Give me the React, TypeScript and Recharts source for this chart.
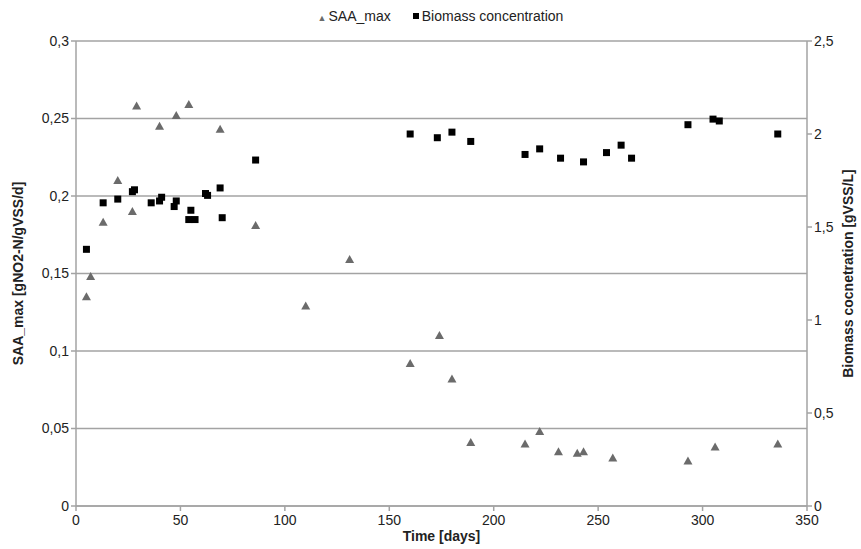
import React from 'react';
import { ScatterChart, Scatter, XAxis, YAxis, CartesianGrid } from 'recharts';

// SAA_max (left axis)
const saaDays = [5, 7, 13, 20, 27, 29, 40, 48, 54, 69, 86, 110, 131, 160, 174, 180, 189, 215, 222, 231, 240, 243, 257, 293, 306, 336];
const saaMax = [0.135, 0.148, 0.183, 0.21, 0.19, 0.258, 0.245, 0.252, 0.259, 0.243, 0.181, 0.129, 0.159, 0.092, 0.11, 0.082, 0.041, 0.04, 0.048, 0.035, 0.034, 0.035, 0.031, 0.029, 0.038, 0.04];

// Biomass concentration (right axis)
const bioDays = [5, 13, 20, 27, 28, 36, 40, 41, 47, 48, 54, 55, 57, 62, 63, 69, 70, 86, 160, 173, 180, 189, 215, 222, 232, 243, 254, 261, 266, 293, 305, 308, 336];
const biomass = [1.38, 1.63, 1.65, 1.69, 1.7, 1.63, 1.64, 1.66, 1.61, 1.64, 1.54, 1.59, 1.54, 1.68, 1.67, 1.71, 1.55, 1.86, 2.0, 1.98, 2.01, 1.96, 1.89, 1.92, 1.87, 1.85, 1.9, 1.94, 1.87, 2.05, 2.08, 2.07, 2.0];

const xTicks = [0, 50, 100, 150, 200, 250, 300, 350];
const leftTicks = [0, 0.05, 0.1, 0.15, 0.2, 0.25, 0.3];
const rightTicks = [0, 0.5, 1, 1.5, 2, 2.5];

const saaData = saaDays.map((d, i) => ({ x: d, y: saaMax[i] }));
const bioData = bioDays.map((d, i) => ({ x: d, y: biomass[i] }));

const FONT = '"Liberation Sans Narrow", "Arial Narrow", "Liberation Sans", Arial, sans-serif';
const AXIS_GRAY = '#a3a3a3';
const comma = (v: number) => String(v).replace('.', ',');

const Triangle = (props: any) => {
  const { cx, cy } = props;
  return <polygon points={`${cx},${cy - 4.5} ${cx - 4.5},${cy + 3.5} ${cx + 4.5},${cy + 3.5}`} fill="#6b6b6b" />;
};

const Square = (props: any) => {
  const { cx, cy } = props;
  return <rect x={cx - 3.5} y={cy - 3.5} width={7} height={7} fill="#000" />;
};

const tickStyle = { fontSize: 14, fill: '#222', fontFamily: FONT };

export default function App() {
  return (
    <div style={{ position: 'absolute', left: 0, top: 0, width: 861, height: 549, background: '#fff', fontFamily: FONT }}>
      <div style={{ position: 'absolute', top: 8, left: 0, width: 861, textAlign: 'center', fontSize: 14, color: '#222', paddingLeft: 10 }}>
        <span style={{ color: '#6b6b6b', fontSize: 9, marginRight: 2 }}>▲</span>
        <span>SAA_max</span>
        <span style={{ display: 'inline-block', width: 22 }} />
        <span style={{ display: 'inline-block', width: 6, height: 6, background: '#000', marginRight: 3, verticalAlign: 'middle', position: 'relative', top: -1 }} />
        <span>Biomass concentration</span>
      </div>
      <ScatterChart width={861} height={549} margin={{ top: 41, right: 20, bottom: 8, left: 20 }}>
        <CartesianGrid yAxisId="left" vertical={false} stroke={AXIS_GRAY} strokeWidth={1.5} />
        <XAxis
          type="number"
          dataKey="x"
          domain={[0, 350]}
          ticks={xTicks}
          height={35}
          stroke={AXIS_GRAY}
          strokeWidth={1.5}
          tickSize={5}
          tickMargin={4}
          tick={tickStyle}
          label={{
            content: ({ viewBox }: any) => (
              <text x={viewBox.x + viewBox.width / 2} y={541} textAnchor="middle" fontFamily={FONT} fontWeight="bold" fontSize={14} fill="#222">
                Time [days]
              </text>
            ),
          }}
        />
        <YAxis
          yAxisId="left"
          type="number"
          dataKey="y"
          domain={[0, 0.3]}
          ticks={leftTicks}
          width={56}
          stroke={AXIS_GRAY}
          strokeWidth={1.5}
          tickSize={5}
          tick={tickStyle}
          tickFormatter={comma}
          label={{
            content: ({ viewBox }: any) => {
              const cy = viewBox.y + viewBox.height / 2;
              return (
                <text x={18} y={cy} transform={`rotate(-90, 18, ${cy})`} textAnchor="middle" dominantBaseline="central" fontFamily={FONT} fontWeight="bold" fontSize={14} fill="#222">
                  SAA_max [gNO2-N/gVSS/d]
                </text>
              );
            },
          }}
        />
        <YAxis
          yAxisId="right"
          orientation="right"
          type="number"
          dataKey="y"
          domain={[0, 2.5]}
          ticks={rightTicks}
          width={34}
          stroke={AXIS_GRAY}
          strokeWidth={1.5}
          tickSize={5}
          tick={tickStyle}
          tickFormatter={comma}
          label={{
            content: ({ viewBox }: any) => {
              const cy = viewBox.y + viewBox.height / 2;
              return (
                <text x={848} y={cy} transform={`rotate(-90, 848, ${cy})`} textAnchor="middle" dominantBaseline="central" fontFamily={FONT} fontWeight="bold" fontSize={14} fill="#222">
                  Biomass cocnetration [gVSS/L]
                </text>
              );
            },
          }}
        />
        <Scatter name="SAA_max" yAxisId="left" data={saaData} shape={Triangle} isAnimationActive={false} />
        <Scatter name="Biomass concentration" yAxisId="right" data={bioData} shape={Square} isAnimationActive={false} />
      </ScatterChart>
    </div>
  );
}
